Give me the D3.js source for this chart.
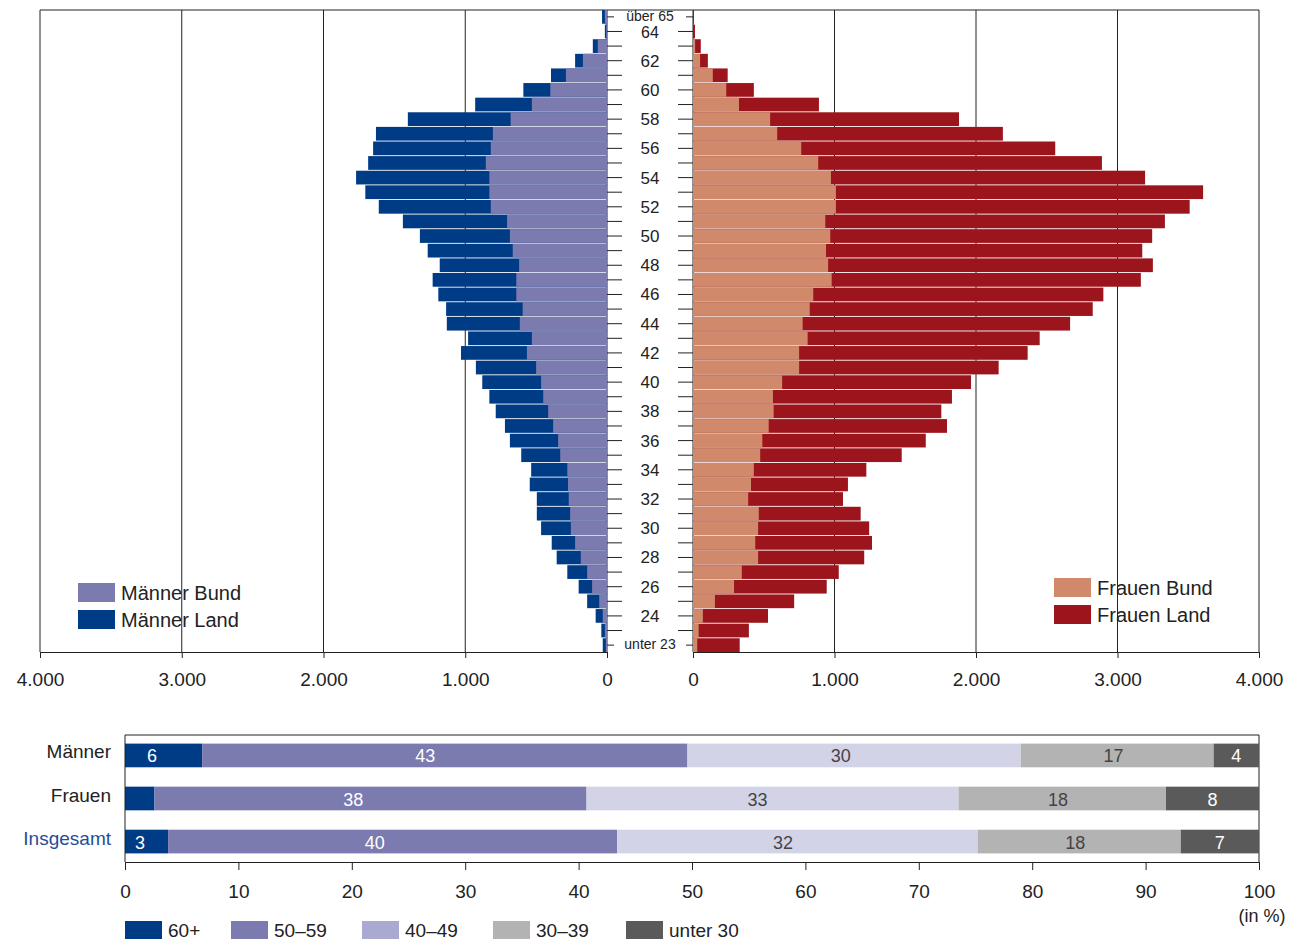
<!DOCTYPE html><html><head><meta charset="utf-8">
<script src="https://cdn.jsdelivr.net/npm/d3@7"></script>
<style>body{margin:0;background:#fff}text{font-family:"Liberation Sans","Noto Sans",sans-serif}</style></head><body>
<svg id="c" width="1295" height="941"></svg>
<script>
const ages=["über 65"].concat(d3.range(64,22,-1).map(String)).concat(["unter 23"]);
const menLand=[35,15,100,225,395,590,930,1405,1630,1650,1685,1770,1705,1610,1440,1320,1265,1180,1230,1190,1135,1130,980,1030,925,880,830,785,720,685,605,535,545,495,495,465,390,355,280,200,140,80,40,30];
const menBund=[15,5,65,170,290,400,530,680,805,820,855,830,830,820,705,685,665,620,640,640,595,615,530,565,500,465,450,415,380,345,330,280,275,270,260,255,225,185,140,105,55,30,15,8];
const womLand=[7,14,55,105,245,430,890,1880,2190,2560,2890,3195,3605,3510,3335,3245,3175,3250,3165,2900,2825,2665,2450,2365,2160,1965,1830,1755,1795,1645,1475,1225,1095,1060,1185,1245,1265,1210,1030,945,715,530,395,330];
const womBund=[0,0,15,50,140,235,325,545,595,765,885,975,1010,1010,935,970,940,955,980,850,825,775,810,750,750,630,565,570,535,490,475,430,410,390,465,460,440,460,345,290,155,70,40,30];
const pyrTicks=[4000,3000,2000,1000,0];
const groups=["Männer","Frauen","Insgesamt"];
const segNames=["60+","50–59","40–49","30–39","unter 30"];
const segVals=[[6.8,42.8,29.4,17,4],[2.6,38.1,32.8,18.3,8.2],[3.8,39.6,31.8,17.9,6.9]];
const segLabels=[["6","43","30","17","4"],["","38","33","18","8"],["3","40","32","18","7"]];
const pctTicks=d3.range(0,101,10);

const svg=d3.select("#c");
const fmt=d=>d===0?"0":d3.format(",")(d).replace(",",".");
const yTop=10,yBot=652;
const y=d3.scaleBand().domain(ages).range([yTop,yBot]).paddingInner(0.06);
const xl=d3.scaleLinear().domain([0,4000]).range([607,40]);
const xr=d3.scaleLinear().domain([0,4000]).range([693,1259]);
const g=svg.append("g");
g.append("path").attr("d",`M${xl(4000)},${yBot}V${yTop}H${xr(4000)}V${yBot}`).attr("fill","none").attr("stroke","#222");
[1000,2000,3000].forEach(v=>{
 g.append("line").attr("x1",xl(v)).attr("x2",xl(v)).attr("y1",yTop).attr("y2",yBot).attr("stroke","#222");
 g.append("line").attr("x1",xr(v)).attr("x2",xr(v)).attr("y1",yTop).attr("y2",yBot).attr("stroke","#222");
});
g.append("line").attr("x1",xl(0)).attr("x2",xl(0)).attr("y1",yTop).attr("y2",yBot).attr("stroke","#222");
g.append("line").attr("x1",xr(0)).attr("x2",xr(0)).attr("y1",yTop).attr("y2",yBot).attr("stroke","#222");
ages.forEach((a,i)=>{
 g.append("rect").attr("x",xl(menLand[i])).attr("y",y(a)).attr("width",xl(0)-xl(menLand[i])).attr("height",y.bandwidth()).attr("fill","#003b85");
 g.append("rect").attr("x",xl(menBund[i])).attr("y",y(a)).attr("width",xl(0)-xl(menBund[i])).attr("height",y.bandwidth()).attr("fill","#7b7bb0");
 g.append("rect").attr("x",xr(0)).attr("y",y(a)).attr("width",xr(womLand[i])-xr(0)).attr("height",y.bandwidth()).attr("fill","#9c151d");
 g.append("rect").attr("x",xr(0)).attr("y",y(a)).attr("width",xr(womBund[i])-xr(0)).attr("height",y.bandwidth()).attr("fill","#d0896a");
 const cy=y(a)+y.bandwidth()/2;
 const lab=(i===0||i===ages.length-1||(+a)%2===0);
 g.append("line").attr("x1",607).attr("x2",lab&&a.length>2?614:622).attr("y1",cy).attr("y2",cy).attr("stroke","#222");
 g.append("line").attr("x1",lab&&a.length>2?686:678).attr("x2",693).attr("y1",cy).attr("y2",cy).attr("stroke","#222");
 if(lab) g.append("text").attr("x",650).attr("y",cy+(a.length>2?4:(i===1?7:6))).attr("text-anchor","middle").attr("font-size",a.length>2?14:(i===1?16:17)).attr("fill","#222").text(a);
});
const ax1=d3.axisBottom(xl).tickValues(pyrTicks).tickFormat(fmt).tickSize(6);
const ax2=d3.axisBottom(xr).tickValues(pyrTicks.slice().reverse()).tickFormat(fmt).tickSize(6);
[ax1,ax2].forEach(ax=>{const a=svg.append("g").attr("transform",`translate(0,${yBot})`).call(ax);
 a.selectAll("text").attr("font-size",19).attr("fill","#222").attr("dy","1.3em");a.selectAll("line,path").attr("stroke","#222");});
[["Männer Bund","#7b7bb0",78,593],["Männer Land","#003b85",78,620],["Frauen Bund","#d0896a",1054,588],["Frauen Land","#9c151d",1054,615]].forEach(([t,c,x0,y0])=>{
 svg.append("rect").attr("x",x0).attr("y",y0-10).attr("width",37).attr("height",19).attr("fill",c);
 svg.append("text").attr("x",x0+43).attr("y",y0+7).attr("font-size",20).attr("fill","#222").text(t);
});
const xp=d3.scaleLinear().domain([0,100]).range([125,1259]);
const yb=d3.scaleBand().domain(groups).range([735,862]).paddingInner(0.45).paddingOuter(0.2);
const segCol=["#003b85","#7b7bb0","#d3d3e8","#b3b3b3","#5a5a5a"];
const txtCol=["#fff","#fff","#444","#444","#fff"];
const labFrac=[0.35,0.46,0.46,0.48,0.5];
svg.append("line").attr("x1",125).attr("x2",1259).attr("y1",735).attr("y2",735).attr("stroke","#222");
svg.append("line").attr("x1",1259).attr("x2",1259).attr("y1",735).attr("y2",862).attr("stroke","#222");
groups.forEach((gname,i)=>{
 let acc=0;
 segVals[i].forEach((v,j)=>{
  svg.append("rect").attr("x",xp(acc)).attr("y",yb(gname)).attr("width",xp(acc+v)-xp(acc)).attr("height",yb.bandwidth()).attr("fill",segCol[j]);
  if(segLabels[i][j]) svg.append("text").attr("x",xp(acc+v*labFrac[j])).attr("y",yb(gname)+yb.bandwidth()/2+7).attr("text-anchor","middle").attr("font-size",18).attr("fill",txtCol[j]).text(segLabels[i][j]);
  acc+=v;
 });
 svg.append("text").attr("x",111).attr("y",yb(gname)+yb.bandwidth()/2+3).attr("text-anchor","end").attr("font-size",19).attr("fill",i===2?"#1f4e9a":"#222").text(gname);
});
const ax3=svg.append("g").attr("transform","translate(0,862)").call(d3.axisBottom(xp).tickValues(pctTicks).tickSize(8));
ax3.selectAll("text").attr("font-size",19).attr("fill","#222").attr("dy","1.3em");ax3.selectAll("line,path").attr("stroke","#222");
svg.append("line").attr("x1",125).attr("x2",125).attr("y1",735).attr("y2",862).attr("stroke","#222");
svg.append("text").attr("x",1262).attr("y",922).attr("text-anchor","middle").attr("font-size",18).attr("fill","#222").text("(in %)");
const legX=[125,231,362,493,626];
const legCol=["#003b85","#7b7bb0","#a9a9d2","#b3b3b3","#5a5a5a"];
segNames.forEach((n,j)=>{
 svg.append("rect").attr("x",legX[j]).attr("y",921).attr("width",37).attr("height",18).attr("fill",legCol[j]);
 svg.append("text").attr("x",legX[j]+43).attr("y",937).attr("font-size",19).attr("fill","#222").text(n);
});
</script></body></html>
